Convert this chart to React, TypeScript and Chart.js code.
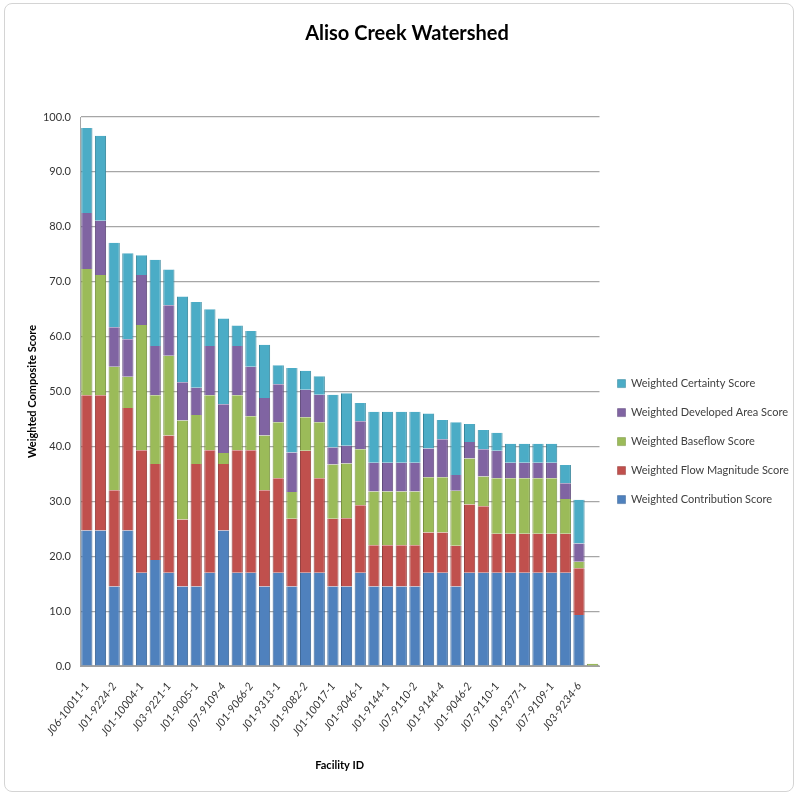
import React, { useRef, useEffect } from 'react';
import { Chart, registerables } from 'chart.js';

Chart.register(...registerables);

// Facility IDs (only every other one is labelled on the axis)
const facilityIds = [
  'J06-10011-1', '', 'J01-9224-2', '', 'J01-10004-1', '', 'J03-9221-1', '',
  'J01-9005-1', '', 'J07-9109-4', '', 'J01-9066-2', '', 'J01-9313-1', '',
  'J01-9082-2', '', 'J01-10017-1', '', 'J01-9046-1', '', 'J01-9144-1', '',
  'J07-9110-2', '', 'J01-9144-4', '', 'J01-9046-2', '', 'J07-9110-1', '',
  'J01-9377-1', '', 'J07-9109-1', '', 'J03-9234-6', ''
];

const contribution = [
  24.7, 24.7, 14.5, 24.7, 17.0, 19.3, 17.0, 14.5, 14.5, 17.0, 24.7, 17.0, 17.0,
  14.5, 17.0, 14.5, 17.0, 17.0, 14.5, 14.5, 17.0, 14.5, 14.5, 14.5, 14.5, 17.0,
  17.0, 14.5, 17.0, 17.0, 17.0, 17.0, 17.0, 17.0, 17.0, 17.0, 9.3, 0
];
const flowMagnitude = [
  24.6, 24.6, 17.5, 22.3, 22.3, 17.5, 25.0, 12.2, 22.3, 22.3, 12.1, 22.3, 22.3,
  17.5, 17.2, 12.3, 22.2, 17.2, 12.3, 12.4, 12.3, 7.5, 7.5, 7.5, 7.5, 7.3,
  7.3, 7.4, 12.4, 12.1, 7.1, 7.1, 7.1, 7.1, 7.1, 7.1, 8.5, 0
];
const baseflow = [
  23.0, 21.9, 22.5, 5.7, 22.8, 12.5, 14.5, 18.0, 8.9, 10.0, 2.0, 10.0, 6.2,
  10.0, 10.2, 4.9, 6.1, 10.2, 9.9, 10.0, 10.2, 9.8, 9.8, 9.8, 9.8, 10.1,
  10.1, 10.0, 8.4, 5.4, 10.1, 10.1, 10.1, 10.1, 10.1, 6.3, 1.2, 0.4
];
const developedArea = [
  10.2, 9.9, 7.2, 6.8, 9.1, 9.0, 9.2, 7.0, 5.0, 9.0, 8.9, 9.0, 9.0,
  6.8, 6.9, 7.2, 5.0, 5.0, 3.1, 3.2, 5.1, 5.2, 5.2, 5.2, 5.2, 5.2,
  6.9, 2.9, 3.0, 5.0, 5.0, 2.8, 2.8, 2.8, 2.8, 2.9, 3.3, 0
];
const certainty = [
  15.5, 15.5, 15.4, 15.7, 3.6, 15.7, 6.5, 15.6, 15.6, 6.7, 15.6, 3.7, 6.5,
  9.7, 3.5, 15.4, 3.5, 3.4, 9.6, 9.6, 3.3, 9.3, 9.3, 9.3, 9.3, 6.4,
  3.5, 9.6, 3.3, 3.5, 3.3, 3.5, 3.5, 3.5, 3.5, 3.3, 8.0, 0
];

const FONT = 'Lato, "Noto Sans", sans-serif';

const App: React.FC = () => {
  const canvasRef = useRef<HTMLCanvasElement>(null);
  const chartRef = useRef<Chart | null>(null);

  useEffect(() => {
    if (!canvasRef.current) return;
    if (chartRef.current) chartRef.current.destroy();

    const series = [
      { label: 'Weighted Contribution Score', data: contribution, color: '#4F81BD', edge: '#3A6494' },
      { label: 'Weighted Flow Magnitude Score', data: flowMagnitude, color: '#C0504D', edge: '#943C3A' },
      { label: 'Weighted Baseflow Score', data: baseflow, color: '#9BBB59', edge: '#77913F' },
      { label: 'Weighted Developed Area Score', data: developedArea, color: '#8064A2', edge: '#614B7C' },
      { label: 'Weighted Certainty Score', data: certainty, color: '#4BACC6', edge: '#34859B' }
    ];

    chartRef.current = new Chart(canvasRef.current, {
      type: 'bar',
      data: {
        labels: facilityIds,
        datasets: series.map(s => ({
          label: s.label,
          data: s.data,
          backgroundColor: s.color,
          borderColor: s.edge,
          borderWidth: { left: 1, right: 1, top: 0, bottom: 0 },
          borderSkipped: false,
          barPercentage: 0.82,
          categoryPercentage: 1.0
        }))
      },
      options: {
        animation: false,
        responsive: false,
        maintainAspectRatio: false,
        layout: { padding: { top: 0, left: 22, right: 6, bottom: 20 } },
        plugins: {
          title: {
            display: true,
            text: 'Aliso Creek Watershed',
            color: '#000',
            font: { family: FONT, size: 20, weight: 'bold' },
            padding: { top: 22, bottom: 71 }
          },
          legend: {
            position: 'right',
            reverse: true,
            title: { display: true, text: ' ', padding: { top: 0, bottom: 94 }, font: { size: 11 } },
            labels: {
              boxWidth: 8,
              boxHeight: 8,
              padding: 18,
              color: '#404040',
              font: { family: FONT, size: 11 }
            }
          },
          tooltip: { enabled: false }
        },
        scales: {
          x: {
            stacked: true,
            afterFit: (scale: any) => { scale.height = 110; },
            grid: { display: false, drawTicks: false },
            border: { display: true, color: '#a0a0a0' },
            ticks: {
              autoSkip: false,
              minRotation: 53,
              maxRotation: 53,
              padding: 14,
              color: '#333',
              font: { family: FONT, size: 11, style: 'italic' }
            },
            title: {
              display: true,
              text: 'Facility ID',
              color: '#000',
              font: { family: FONT, size: 11, weight: 'bold' },
              padding: { top: 0, bottom: 4 }
            }
          },
          y: {
            stacked: true,
            min: 0,
            max: 100,
            afterFit: (scale: any) => { scale.width = 58; },
            grid: { color: '#a6a6a6', lineWidth: 1.2, drawTicks: false },
            border: { display: true, color: '#a6a6a6' },
            ticks: {
              stepSize: 10,
              padding: 9,
              color: '#333',
              font: { family: FONT, size: 11 },
              callback: (v: any) => Number(v).toFixed(1)
            },
            title: {
              display: true,
              text: 'Weighted Composite Score',
              color: '#000',
              font: { family: FONT, size: 11, weight: 'bold' },
              padding: { top: 4, bottom: 0 }
            }
          }
        }
      }
    });

    return () => {
      if (chartRef.current) {
        chartRef.current.destroy();
        chartRef.current = null;
      }
    };
  }, []);

  return (
    <div style={{ position: 'fixed', left: 0, top: 0, width: 798, height: 796, background: '#fff' }}>
      <canvas ref={canvasRef} width={798} height={796} style={{ width: 798, height: 796 }}></canvas>
      <div
        style={{
          position: 'absolute',
          left: 4,
          top: 3,
          right: 4,
          bottom: 4,
          border: '1px solid #d4d4d4',
          borderRadius: 8,
          pointerEvents: 'none'
        }}
      />
    </div>
  );
};

export default App;
